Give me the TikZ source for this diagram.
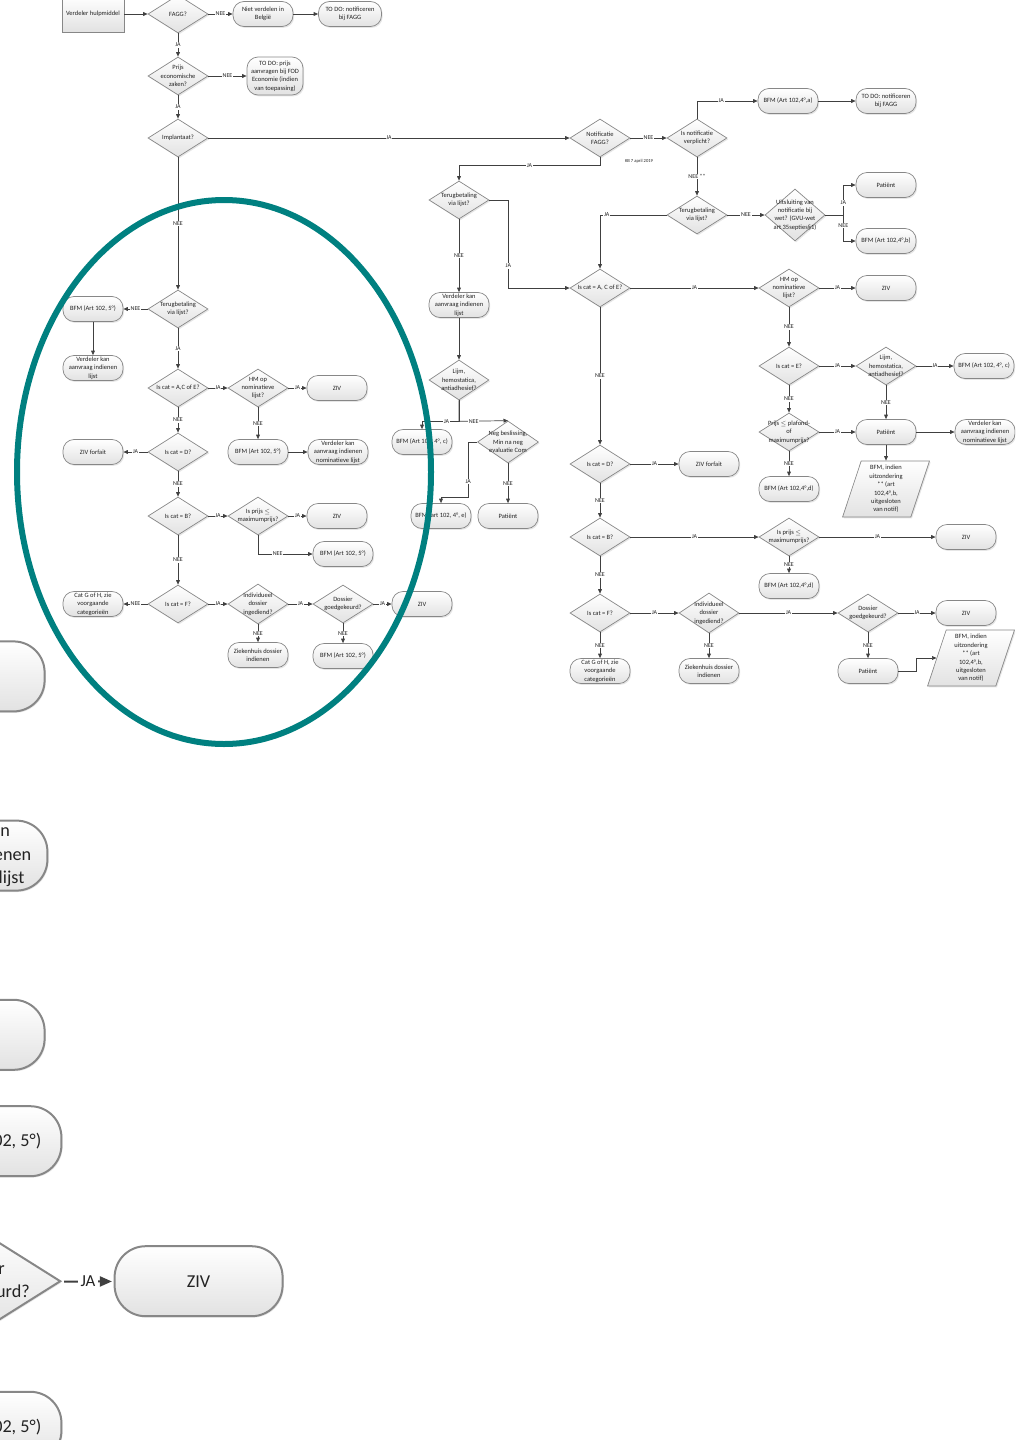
\documentclass[tikz,border=0pt]{standalone}
\usepackage{fontspec}
\setmainfont{Carlito}
\usetikzlibrary{arrows.meta,positioning,shapes.geometric,shadows}

\definecolor{ringteal}{RGB}{0,128,128}
\definecolor{edgegray}{RGB}{64,64,64}
\definecolor{boxgray}{RGB}{135,135,135}
\definecolor{shadegray}{RGB}{226,226,226}
\definecolor{txtgray}{RGB}{35,35,35}

\newcommand\flowfont{\fontsize{6.5}{8.4}\selectfont}
\newcommand\edgefont{\fontsize{6}{7}\selectfont}
\newcommand\notefont{\fontsize{4.6}{5.5}\selectfont}

% the implant branch, drawn twice (normal and blown up)
\newcommand\leftflow[1]{%
  \node[dec={Terugbetaling\\via lijst?}] (#1terug) at (178,309) {};
  \node[term] (#1bfm5a) at (93,309) {BFM (Art 102, 5°)};
  \node[term] (#1verd) at (93,368) {Verdeler kan\\aanvraag indienen\\lijst};
  \node[dec={Is cat = A,C of E?}] (#1catace) at (178,388) {};
  \node[dec={HM op\\nominatieve\\lijst?}] (#1hm) at (258,388) {};
  \node[term] (#1ziv1) at (337,388) {ZIV};
  \node[term] (#1bfm5b) at (258,452) {BFM (Art 102, 5°)};
  \node[term] (#1verdnom) at (338,452) {Verdeler kan\\aanvraag indienen\\nominatieve lijst};
  \node[dec={Is cat = D?}] (#1catd) at (178,452) {};
  \node[term] (#1forf) at (93,452) {ZIV forfait};
  \node[dec={Is cat = B?}] (#1catb) at (178,516) {};
  \node[dec={Is prijs $\leq$\\maximumprijs?}] (#1prijs) at (258,516) {};
  \node[term] (#1ziv2) at (337,516) {ZIV};
  \node[term] (#1bfm5c) at (343,554) {BFM (Art 102, 5°)};
  \node[dec={Is cat = F?}] (#1catf) at (178,604) {};
  \node[term] (#1catgh) at (93,604) {Cat G of H, zie\\voorgaande\\categorieën};
  \node[dec={Individueel\\dossier\\ingediend?}, minimum height=40pt] (#1indiv) at (258,604) {};
  \node[dec={Dossier\\goedgekeurd?}] (#1dossier) at (343,604) {};
  \node[term] (#1ziv3) at (422,604) {ZIV};
  \node[term] (#1zhuis) at (258,655) {Ziekenhuis dossier\\indienen};
  \node[term] (#1bfm5d) at (343,656) {BFM (Art 102, 5°)};
  \draw[arr] (#1terug) -- node[lbl]{NEE} (#1bfm5a);
  \draw[arr] (#1bfm5a) -- (#1verd);
  \draw[arr] (#1terug) -- node[lbl]{JA} (#1catace);
  \draw[arr] (#1catace) -- node[lbl]{JA} (#1hm);
  \draw[arr] (#1hm) -- node[lbl]{JA} (#1ziv1);
  \draw[arr] (#1hm) -- node[lbl]{NEE} (#1bfm5b);
  \draw[arr] (#1bfm5b) -- (#1verdnom);
  \draw[arr] (#1catace) -- node[lbl]{NEE} (#1catd);
  \draw[arr] (#1catd) -- node[lbl]{JA} (#1forf);
  \draw[arr] (#1catd) -- node[lbl]{NEE} (#1catb);
  \draw[arr] (#1catb) -- node[lbl]{JA} (#1prijs);
  \draw[arr] (#1prijs) -- node[lbl]{JA} (#1ziv2);
  \draw[arr] (#1prijs.south) |- node[lbl, pos=0.68]{NEE} (#1bfm5c.west);
  \draw[arr] (#1catb) -- node[lbl]{NEE} (#1catf);
  \draw[arr] (#1catf) -- node[lbl]{NEE} (#1catgh);
  \draw[arr] (#1catf) -- node[lbl]{JA} (#1indiv);
  \draw[arr] (#1indiv) -- node[lbl]{JA} (#1dossier);
  \draw[arr] (#1dossier) -- node[lbl]{JA} (#1ziv3);
  \draw[arr] (#1indiv) -- node[lbl]{NEE} (#1zhuis);
  \draw[arr] (#1dossier) -- node[lbl]{NEE} (#1bfm5d);
}

\begin{document}
\begin{tikzpicture}[x=1pt, y=-1pt, line width=0.7pt,
  nodebase/.style={draw=boxgray, top color=white, bottom color=shadegray, text=txtgray,
    drop shadow={shadow xshift=1.2pt, shadow yshift=-1.4pt, opacity=0.2}},
  term/.style={nodebase, rectangle, rounded corners=11pt, minimum width=60pt,
    minimum height=25pt, inner sep=1pt, align=center, font=\flowfont},
  box/.style={nodebase, rectangle, minimum width=62pt, minimum height=36pt, font=\flowfont},
  dtext/.style={font=\flowfont, align=center, text=txtgray, inner sep=0pt},
  dec/.style={nodebase, diamond, minimum width=60pt, minimum height=38pt,
    inner sep=0pt, label={[dtext]center:{#1}}},
  para/.style={nodebase, trapezium, trapezium left angle=75, trapezium right angle=105,
    trapezium stretches=true, minimum width=87pt, minimum height=56pt, inner sep=1pt,
    align=center, font=\flowfont},
  arr/.style={draw=edgegray, -{Triangle[length=4.5pt,width=3.8pt]}},
  lbl/.style={fill=white, inner sep=0.8pt, font=\edgefont, text=txtgray},
  ring/.style={draw=ringteal, line width=6pt}
]
\useasboundingbox (0,0) rectangle (1015,1440);
\clip (0,0) rectangle (1015,1440);

% blown-up copy, cut by the page edge
\begin{scope}[shift={(-983,-410)}, scale=2.8, transform shape, line width=2pt,
  term/.append style={rounded corners=31pt},
  arr/.append style={-{Triangle[length=12pt,width=10pt]}}]
  \leftflow{z}
\end{scope}

% top
\node[box] (hulp) at (93,14) {Verdeler hulpmiddel};
\node[dec={FAGG?}] (fagg) at (178,14) {};
\node[term] (nietbe) at (263,14) {Niet verdelen in\\België};
\node[term, minimum width=63pt] (todo1) at (350,14) {TO DO: notificeren\\bij FAGG};
\node[dec={Prijs\\economische\\zaken?}] (prijsez) at (178,76) {};
\node[term, minimum width=56pt, minimum height=38pt] (todo2) at (275,76)
  {TO DO: prijs\\aanvragen bij FOD\\Economie (indien\\van toepassing)};
\node[dec={Implantaat?}] (impl) at (178,138) {};
\node[dec={Notificatie\\FAGG?}] (notif) at (600,138) {};
\node[font=\notefont, text=txtgray] (kb) at (639,161) {KB 7 april 2019};
\draw[arr] (hulp) -- (fagg);
\draw[arr] (fagg) -- node[lbl]{NEE} (nietbe);
\draw[arr] (nietbe) -- (todo1);
\draw[arr] (fagg) -- node[lbl]{JA} (prijsez);
\draw[arr] (prijsez) -- node[lbl]{NEE} (todo2);
\draw[arr] (prijsez) -- node[lbl]{JA} (impl);
\draw[arr] (impl) -- node[lbl]{JA} (notif);

% implant branch
\leftflow{l}
\draw[arr] (impl) -- node[lbl]{NEE} (lterug);

% middle column
\node[dec={Terugbetaling\\via lijst?}] (terugm) at (459,200) {};
\node[term] (verdm) at (459,305) {Verdeler kan\\aanvraag indienen\\lijst};
\node[dec={Lijm,\\hemostatica,\\antiadhesief?}, minimum height=40pt] (lijmm) at (459,380) {};
\node[term] (bfmcm) at (422,442) {BFM (Art 102, 4°, c)};
\node[dec={Neg beslissing,\\Min na neg\\evaluatie Com}, minimum width=61pt, minimum height=42pt]
  (negm) at (508,442) {};
\node[term] (bfmem) at (441,516) {BFM (art 102, 4°, e)};
\node[term] (patm) at (508,516) {Patiënt};
\draw[arr] (notif.south) -- ++(0,8) -| node[lbl, pos=0.25]{JA} (terugm.north);
\draw[arr] (terugm) -- node[lbl]{NEE} (verdm);
\draw[arr] (verdm) -- (lijmm);
\draw[arr] (lijmm.south) -- ++(0,21) -| node[lbl, pos=0.17]{JA} (bfmcm.north);
\draw[arr] (lijmm.south) -- ++(0,21) -- node[lbl, pos=0.3]{NEE} (negm.north);
\draw[arr] (negm.west) -- ++(-9,0) -- node[lbl, pos=0.72]{JA} ++(0,55) -| (bfmem.north);
\draw[arr] (negm) -- node[lbl]{NEE} (patm);

% right column
\node[dec={Is notificatie\\verplicht?}] (verpl) at (697,138) {};
\node[term] (bfma) at (788,101) {BFM (Art 102,4°,a)};
\node[term] (todo3) at (886,101) {TO DO: notificeren\\bij FAGG};
\node[dec={Terugbetaling\\via lijst?}] (terugr) at (697,215) {};
\node[dec={Uitsluiting van\\notificatie bij\\wet? (GVU-wet\\art 35septies§1)}, minimum height=52pt]
  (uitsl) at (795,215) {};
\node[term] (patr1) at (886,185) {Patiënt};
\node[term] (bfmb) at (886,241) {BFM (Art 102,4°,b)};
\node[dec={Is cat = A, C of E?}] (catr) at (600,288) {};
\node[dec={HM op\\nominatieve\\lijst?}] (hmr) at (789,288) {};
\node[term] (zivr1) at (886,288) {ZIV};
\node[dec={Is cat = E?}] (cater) at (789,366) {};
\node[dec={Lijm,\\hemostatica,\\antiadhesief?}] (lijmr) at (886,366) {};
\node[term] (bfmcr) at (984,366) {BFM (Art 102, 4°, c)};
\node[dec={Prijs $\leq$ plafond-\\of\\maximumprijs?}] (prijsr) at (789,432) {};
\node[term] (patr2) at (886,432) {Patiënt};
\node[term] (verdr) at (985,432) {Verdeler kan\\aanvraag indienen\\nominatieve lijst};
\node[para] (uitzr1) at (886,489) {BFM, indien\\uitzondering\\** (art\\102,4°,b,\\uitgesloten\\van notif)};
\node[term] (bfmdr1) at (789,489) {BFM (Art 102,4°,d)};
\node[dec={Is cat = D?}] (catdr) at (600,464) {};
\node[term] (forfr) at (709,464) {ZIV forfait};
\node[dec={Is cat = B?}] (catbr) at (600,537) {};
\node[dec={Is prijs $\leq$\\maximumprijs?}] (prijsbr) at (789,537) {};
\node[term] (zivr2) at (966,537) {ZIV};
\node[term] (bfmdr2) at (789,586) {BFM (Art 102,4°,d)};
\node[dec={Is cat = F?}] (catfr) at (600,613) {};
\node[dec={Individueel\\dossier\\ingediend?}, minimum height=40pt] (indivr) at (709,613) {};
\node[dec={Dossier\\goedgekeurd?}] (dossr) at (868,613) {};
\node[term] (zivr3) at (966,613) {ZIV};
\node[term] (catghr) at (600,671) {Cat G of H, zie\\voorgaande\\categorieën};
\node[term] (zhuisr) at (709,671) {Ziekenhuis dossier\\indienen};
\node[term] (patr3) at (868,671) {Patiënt};
\node[para] (uitzr2) at (971,658) {BFM, indien\\uitzondering\\** (art\\102,4°,b,\\uitgesloten\\van notif)};

\draw[arr] (notif) -- node[lbl]{NEE} (verpl);
\draw[arr] (verpl.north) |- node[lbl, pos=0.7]{JA} (bfma.west);
\draw[arr] (bfma) -- (todo3);
\draw[arr] (verpl) -- node[lbl]{NEE **} (terugr);
\draw[arr] (terugr) -- node[lbl]{NEE} (uitsl);
\draw[arr] (uitsl.east) -- ++(18,0) |- node[lbl, pos=0.2]{JA} (patr1.west);
\draw[arr] (uitsl.east) -- ++(18,0) |- node[lbl, pos=0.2]{NEE} (bfmb.west);
\draw[arr] (terugr.west) -| node[lbl, pos=0.45]{JA} (catr.north);
\draw[arr] (terugm.east) -- ++(19,0) |- node[lbl, pos=0.375]{JA} (catr.west);
\draw[arr] (catr) -- node[lbl]{JA} (hmr);
\draw[arr] (hmr) -- node[lbl]{JA} (zivr1);
\draw[arr] (hmr) -- node[lbl]{NEE} (cater);
\draw[arr] (cater) -- node[lbl]{JA} (lijmr);
\draw[arr] (lijmr) -- node[lbl]{JA} (bfmcr);
\draw[arr] (cater) -- node[lbl]{NEE} (prijsr);
\draw[arr] (prijsr) -- node[lbl]{JA} (patr2);
\draw[arr] (lijmr) -- node[lbl]{NEE} (patr2);
\draw[arr] (patr2) -- (verdr);
\draw[arr] (patr2) -- (uitzr1);
\draw[arr] (prijsr) -- node[lbl]{NEE} (bfmdr1);
\draw[arr] (catr) -- node[lbl]{NEE} (catdr);
\draw[arr] (catdr) -- node[lbl]{JA} (forfr);
\draw[arr] (catdr) -- node[lbl]{NEE} (catbr);
\draw[arr] (catbr) -- node[lbl]{JA} (prijsbr);
\draw[arr] (prijsbr) -- node[lbl]{JA} (zivr2);
\draw[arr] (prijsbr) -- node[lbl]{NEE} (bfmdr2);
\draw[arr] (catbr) -- node[lbl]{NEE} (catfr);
\draw[arr] (catfr) -- node[lbl]{JA} (indivr);
\draw[arr] (indivr) -- node[lbl]{JA} (dossr);
\draw[arr] (dossr) -- node[lbl]{JA} (zivr3);
\draw[arr] (catfr) -- node[lbl]{NEE} (catghr);
\draw[arr] (indivr) -- node[lbl]{NEE} (zhuisr);
\draw[arr] (dossr) -- node[lbl]{NEE} (patr3);
\draw[arr] (patr3.east) -- ++(18,0) |- (uitzr2.west);

% marking ring round the implant branch
\draw[ring] (224,472) ellipse [x radius=207, y radius=272];
\end{tikzpicture}
\end{document}
